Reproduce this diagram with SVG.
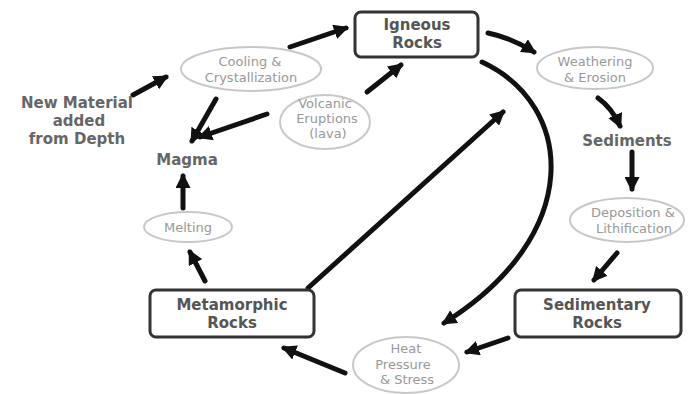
<svg xmlns="http://www.w3.org/2000/svg" width="689" height="394" viewBox="0 0 689 394">
<defs>
<style>
.box{fill:#fff;stroke:#333;stroke-width:3}
.ell{fill:#fff;stroke:#c8c8c8;stroke-width:2}
.bt{font-family:"DejaVu Sans",sans-serif;font-size:15px;font-weight:bold;fill:#555;text-anchor:middle}
.et{font-family:"DejaVu Sans",sans-serif;font-size:13px;fill:#999;text-anchor:middle}
.ft{font-family:"DejaVu Sans",sans-serif;font-size:15px;font-weight:bold;fill:#666;text-anchor:middle}
.c{fill:none;stroke:#111;stroke-width:5;stroke-linecap:round}
</style>
<marker id="ah" viewBox="0 0 10 10" refX="8" refY="5" markerWidth="3" markerHeight="3" orient="auto">
<path d="M0,0 L10,5 L0,10 Z" fill="#111"/>
</marker>
</defs>
<rect width="689" height="394" fill="#fff"/>

<g id="connectors">
<path class="c" d="M290,47 L346,28" marker-end="url(#ah)"/>
<path class="c" d="M133,95 L166,77" marker-end="url(#ah)"/>
<path class="c" d="M216,99 L192,141" marker-end="url(#ah)"/>
<path class="c" d="M267,114 L200,137" marker-end="url(#ah)"/>
<path class="c" d="M367,92 L401,65" marker-end="url(#ah)"/>
<path class="c" d="M488,33 Q512,38 534,52" marker-end="url(#ah)"/>
<path class="c" d="M598,98 Q612,108 620,126" marker-end="url(#ah)"/>
<path class="c" d="M632,152 L632,189" marker-end="url(#ah)"/>
<path class="c" d="M617,253 L594,280" marker-end="url(#ah)"/>
<path class="c" d="M508,338 L467,352" marker-end="url(#ah)"/>
<path class="c" d="M345,373 L284,348" marker-end="url(#ah)"/>
<path class="c" d="M482,62 C575,105 585,235 444,323" marker-end="url(#ah)"/>
<path class="c" d="M308,288 L503,112" marker-end="url(#ah)"/>
<path class="c" d="M205,281 L190,252" marker-end="url(#ah)"/>
<path class="c" d="M183,208 L183,176" marker-end="url(#ah)"/>
</g>

<g id="igneous">
<rect class="box" x="355" y="12" width="123" height="45" rx="6"/>
<text class="bt" x="417" y="30">Igneous</text>
<text class="bt" x="417" y="48">Rocks</text>
</g>

<g id="cooling">
<ellipse class="ell" cx="251" cy="69" rx="70" ry="22"/>
<text class="et" x="250" y="66">Cooling &amp;</text>
<text class="et" x="251" y="82">Crystallization</text>
</g>

<g id="volcanic">
<ellipse class="ell" cx="325" cy="122" rx="45" ry="27"/>
<text class="et" x="325" y="108">Volcanic</text>
<text class="et" x="327" y="123">Eruptions</text>
<text class="et" x="328" y="138">(lava)</text>
</g>

<g id="new-material">
<text class="ft" x="77" y="108">New Material</text>
<text class="ft" x="79" y="126">added</text>
<text class="ft" x="77" y="144">from Depth</text>
</g>

<g id="magma">
<text class="ft" x="187" y="165">Magma</text>
</g>

<g id="melting">
<ellipse class="ell" cx="188" cy="227" rx="44" ry="15"/>
<text class="et" x="188" y="232">Melting</text>
</g>

<g id="metamorphic">
<rect class="box" x="150" y="290" width="164" height="47" rx="6"/>
<text class="bt" x="232" y="310">Metamorphic</text>
<text class="bt" x="232" y="328">Rocks</text>
</g>

<g id="heat">
<ellipse class="ell" cx="406" cy="365" rx="53" ry="28"/>
<text class="et" x="406" y="353">Heat</text>
<text class="et" x="403" y="369">Pressure</text>
<text class="et" x="407" y="384">&amp; Stress</text>
</g>

<g id="sedimentary">
<rect class="box" x="515" y="290" width="166" height="47" rx="6"/>
<text class="bt" x="597" y="310">Sedimentary</text>
<text class="bt" x="597" y="328">Rocks</text>
</g>

<g id="deposition">
<ellipse class="ell" cx="627" cy="220" rx="57" ry="22"/>
<text class="et" x="633" y="217">Deposition &amp;</text>
<text class="et" x="634" y="233">Lithification</text>
</g>

<g id="sediments">
<text class="ft" x="627" y="146">Sediments</text>
</g>

<g id="weathering">
<ellipse class="ell" cx="595" cy="68" rx="58" ry="21"/>
<text class="et" x="595" y="66">Weathering</text>
<text class="et" x="595" y="82">&amp; Erosion</text>
</g>
</svg>
